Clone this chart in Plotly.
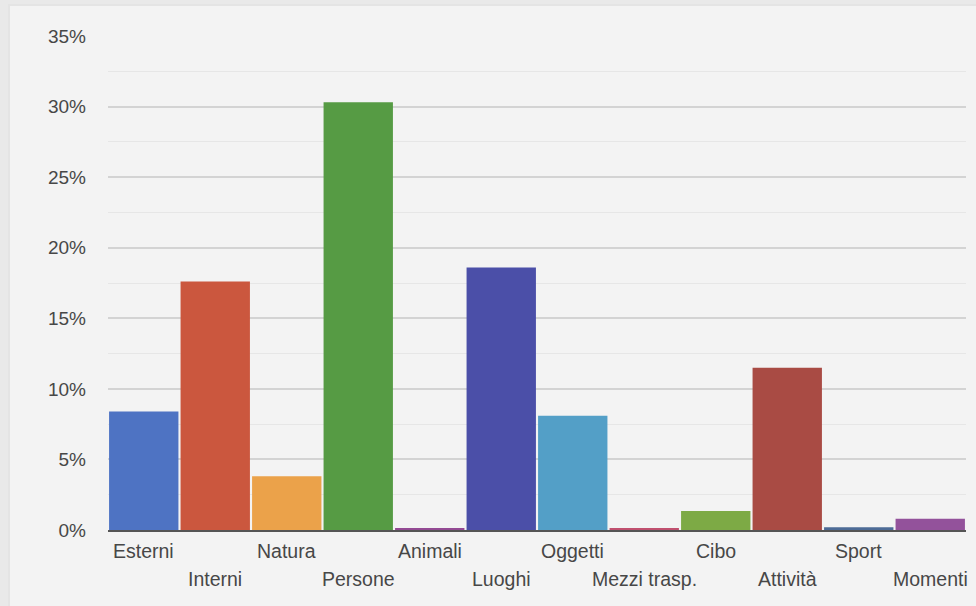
import plotly.graph_objects as go

# Category shares (percent)
categories = ["Esterni", "Interni", "Natura", "Persone", "Animali", "Luoghi",
              "Oggetti", "Mezzi trasp.", "Cibo", "Attività", "Sport", "Momenti"]
values = [8.4, 17.6, 3.8, 30.3, 0.1, 18.6, 8.1, 0.1, 1.35, 11.5, 0.2, 0.8]
colors = ["#4e73c3", "#cb573e", "#eba24a", "#569b44", "#934a93", "#4b4fa8",
          "#539fc7", "#c0506f", "#7daa45", "#a94b44", "#4d6b96", "#93529b"]
y_ticks = [0, 5, 10, 15, 20, 25, 30, 35]

font_color = "#474747"
font_family = "Liberation Sans, Arial, sans-serif"

fig = go.Figure(
    go.Bar(
        x=categories,
        y=values,
        marker=dict(color=colors, line=dict(width=0)),
        hoverinfo="x+y",
    )
)

# Staggered category labels: every other one sits on a second row
label_annotations = [
    dict(
        x=c, y=0, xref="x", yref="paper",
        text=c, showarrow=False,
        xanchor="center", yanchor="middle",
        yshift=-21 if i % 2 == 0 else -49,
        font=dict(family=font_family, size=19.5, color=font_color),
    )
    for i, c in enumerate(categories)
]

fig.update_layout(
    width=976,
    height=606,
    margin=dict(l=108, r=10, t=36, b=76, autoexpand=False),
    paper_bgcolor="#e9e9e9",
    plot_bgcolor="rgba(0,0,0,0)",
    bargap=0.03,
    showlegend=False,
    font=dict(family=font_family, size=19, color=font_color),
    xaxis=dict(
        range=[-0.5, len(categories) - 0.5],
        showticklabels=False,
        automargin=False,
        showgrid=False,
        showline=True,
        linecolor="#555555",
        linewidth=2,
        ticks="",
        zeroline=False,
        fixedrange=True,
    ),
    yaxis=dict(
        range=[0, 35],
        tickmode="array",
        tickvals=y_ticks,
        ticktext=[f"{v}%" for v in y_ticks],
        automargin=False,
        showgrid=True,
        gridcolor="#d3d3d3",
        gridwidth=1.5,
        minor=dict(dtick=2.5, showgrid=True, gridcolor="#e6e6e6", gridwidth=1),
        zeroline=False,
        ticks="",
        ticklabelstandoff=21,
        fixedrange=True,
    ),
    annotations=label_annotations,
    shapes=[
        # soft shadow and card panel behind the plot
        dict(type="rect", xref="paper", yref="paper",
             x0=(8 - 108) / 858, x1=1.2, y0=-0.3, y1=(530 - 4) / 494,
             fillcolor="#e4e4e4", line=dict(width=0), layer="below"),
        dict(type="rect", xref="paper", yref="paper",
             x0=(10 - 108) / 858, x1=1.2, y0=-0.3, y1=(530 - 6) / 494,
             fillcolor="#f3f3f3", line=dict(width=0), layer="below"),
    ],
)

fig.write_html("out.html")
